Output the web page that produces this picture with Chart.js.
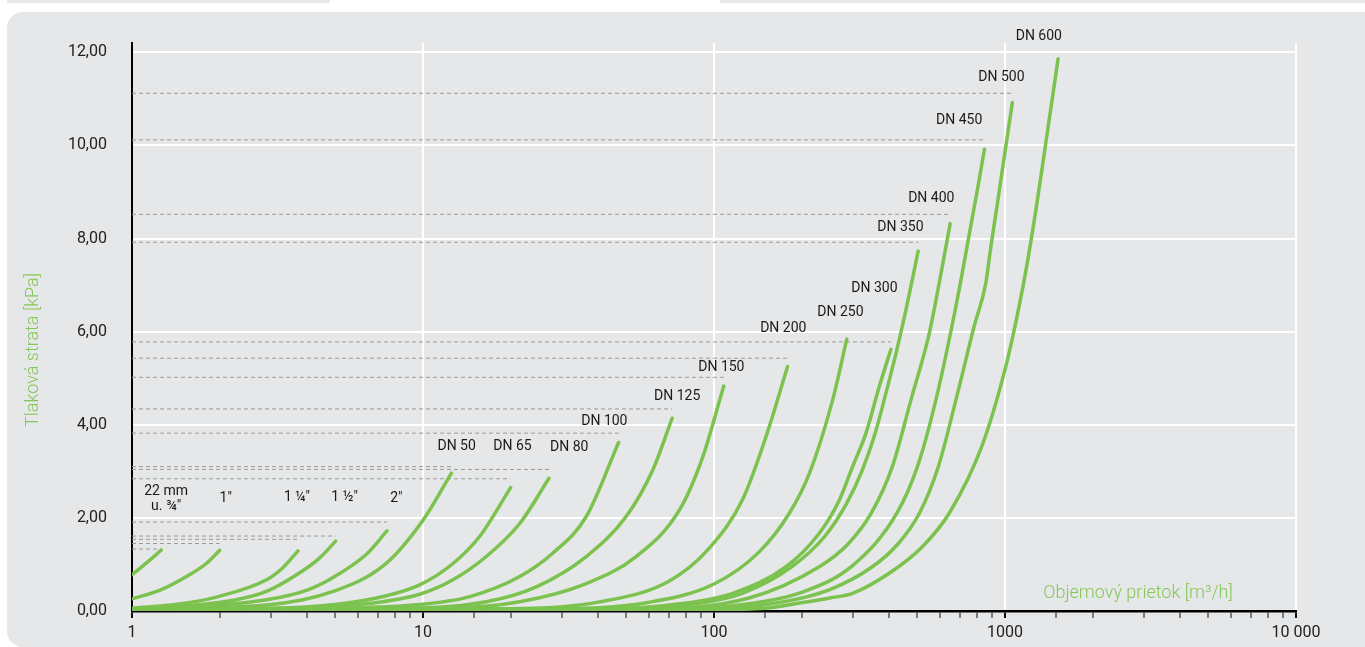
<!DOCTYPE html>
<html lang="sk">
<head>
<meta charset="utf-8">
<title>Tlaková strata</title>
<script src="https://cdn.jsdelivr.net/npm/chart.js@4.4.1/dist/chart.umd.min.js"></script>
<style>
  html, body { margin: 0; padding: 0; background: #fff; overflow: hidden; }
  .pas { position: absolute; top: 0; height: 3px; background: #e6e7e9; }
  #panel { position: absolute; left: 7px; top: 12px; width: 1400px; height: 635px; background: #e6e7e9; border-radius: 16px; }
  #obal { position: absolute; left: 0; top: 0; width: 1365px; height: 647px; }
</style>
</head>
<body>
<div class="pas" style="left:7px;width:323px"></div>
<div class="pas" style="left:720px;width:645px"></div>
<div id="panel"></div>
<div id="obal"><canvas id="graf"></canvas></div>
<script>
// dimenzie potrubia
const pipes = ['22 mm\nu. ¾"', '1"', '1 ¼"', '1 ½"', '2"', 'DN 50', 'DN 65', 'DN 80', 'DN 100', 'DN 125',
  'DN 150', 'DN 200', 'DN 250', 'DN 300', 'DN 350', 'DN 400', 'DN 450', 'DN 500', 'DN 600']

// objemovy prietok [m3/h]
const flow = [
  [1, 1.13, 1.26],
  [1, 1.25, 1.54, 1.8, 2.0],
  [1, 1.45, 1.98, 2.9, 3.3, 3.72],
  [1, 1.6, 2.23, 2.9, 3.77, 4.4, 5.01],
  [1, 2, 2.9, 4, 4.91, 6.39, 7.52],
  [1, 2.9, 4.91, 7.4, 10, 12.52],
  [1, 3, 5, 7.3, 9.74, 12.68, 15.65, 20],
  [1, 4, 6.5, 9.74, 12.68, 16.5, 21.5, 27.1],
  [1, 5, 9.74, 14.5, 21.5, 27.9, 36.4, 47],
  [1, 9, 16.5, 24.5, 36.4, 49.9, 61.6, 71.8],
  [1, 12, 21.5, 36.4, 54, 76.1, 91.5, 108],
  [1, 20, 40, 70, 96.4, 125.5, 151, 179],
  [1, 30, 60, 100, 143, 181.5, 212.6, 255.6, 286],
  [1, 40, 80, 116, 176.8, 230, 269.5, 299.4, 332.8, 369.7, 405.5],
  [1, 45, 90, 125, 185, 240, 285, 322, 358, 395, 425, 456.5, 503],
  [1, 60, 132, 230, 290, 347, 410, 475, 549, 594, 648],
  [1, 80, 130, 200, 300, 425, 500, 578.6, 678, 773, 815, 850],
  [1, 100, 170, 250, 350, 430, 508, 590, 678, 783, 859, 894, 942, 1006, 1060],
  [1, 100, 151, 196.5, 250, 299.4, 400, 520, 643, 836, 1006, 1089, 1179, 1276, 1381, 1522]
]

// tlakova strata [kPa]
const loss = [
  [0.78, 1.05, 1.31],
  [0.26, 0.45, 0.74, 1.02, 1.30],
  [0.06, 0.15, 0.31, 0.67, 0.93, 1.29],
  [0.05, 0.12, 0.23, 0.42, 0.82, 1.13, 1.50],
  [0.05, 0.13, 0.24, 0.45, 0.72, 1.22, 1.72],
  [0.05, 0.13, 0.42, 1.0, 1.95, 2.96],
  [0.04, 0.06, 0.14, 0.31, 0.56, 1.02, 1.6, 2.65],
  [0.04, 0.07, 0.16, 0.36, 0.67, 1.17, 1.88, 2.85],
  [0.03, 0.06, 0.14, 0.31, 0.74, 1.24, 2.03, 3.62],
  [0.03, 0.06, 0.2, 0.52, 1.17, 2.03, 3.03, 4.14],
  [0.03, 0.06, 0.2, 0.59, 1.17, 2.17, 3.31, 4.83],
  [0.03, 0.05, 0.19, 0.64, 1.35, 2.4, 3.75, 5.25],
  [0.03, 0.05, 0.19, 0.58, 1.27, 2.1, 2.95, 4.53, 5.84],
  [0.03, 0.04, 0.17, 0.38, 0.95, 1.67, 2.38, 3.1, 3.82, 4.82, 5.62],
  [0.03, 0.04, 0.17, 0.38, 0.95, 1.6, 2.3, 3.0, 3.82, 4.82, 5.61, 6.46, 7.73],
  [0.03, 0.05, 0.28, 0.95, 1.45, 2.1, 3.1, 4.53, 5.96, 7.04, 8.32],
  [0.03, 0.05, 0.15, 0.4, 0.98, 2.1, 3.1, 4.53, 6.54, 8.47, 9.26, 9.92],
  [0.03, 0.06, 0.19, 0.46, 0.95, 1.45, 2.1, 3.1, 4.53, 6.11, 7.04, 7.82, 8.76, 9.97, 10.92],
  [0.02, 0.03, 0.06, 0.17, 0.28, 0.38, 0.81, 1.38, 2.1, 3.57, 5.25, 6.2, 7.3, 8.6, 10.05, 11.86]
]

// prerusovane ciary od osi (null = bez ciary)
const refLevel = [1.33, 1.45, 1.54, 1.61, 1.91, 3.10, 2.84, 3.04, 3.82, 4.34, 5.02, 5.43, null, 5.78, 7.92, 8.52, 10.12, 11.12, null]

// poloha popisov
const labelFlow = [1.31, 2.10, 3.69, 5.38, 8.1, 13.05, 20.3, 31.8, 42, 74.7, 106, 173, 272, 356, 437, 558, 696, 972, 1307]
const labelLoss = [2.40, 2.42, 2.44, 2.44, 2.42, 3.53, 3.53, 3.52, 4.07, 4.60, 5.23, 6.07, 6.41, 6.93, 8.24, 8.86, 10.53, 11.45, 12.35]

const yTicks = [0, 2, 4, 6, 8, 10, 12]
const xTickValues = [1, 10, 100, 1000, 10000]
const xTickLabels = ['1', '10', '100', '1000', '10 000']

const xTitle = 'Objemový prietok [m³/h]'
const yTitle = 'Tlaková strata [kPa]'

const zelena = '#7cc24e'
const zelenaSvetla = '#86c75a'

function jeDekada(v) {
  const l = Math.log10(v)
  return Math.abs(l - Math.round(l)) < 1e-9
}

const datasets = []

refLevel.forEach((lvl, i) => {
  if (lvl === null) return
  const konec = flow[i][flow[i].length - 1]
  datasets.push({
    data: [{ x: 1, y: lvl }, { x: konec, y: lvl }],
    borderColor: '#9a9a9a',
    borderWidth: 1,
    borderDash: [4, 3],
    pointRadius: 0,
    order: 2
  })
})

pipes.forEach((name, i) => {
  datasets.push({
    label: name,
    data: flow[i].map((q, k) => ({ x: q, y: loss[i][k] })),
    borderColor: zelena,
    borderWidth: 3.5,
    borderCapStyle: 'round',
    borderJoinStyle: 'round',
    cubicInterpolationMode: 'monotone',
    pointRadius: 0,
    order: 1
  })
})

// popisy kriviek a nazvy osi
const popisky = {
  id: 'popisky',
  afterDraw(chart) {
    const { ctx, chartArea, scales: { x, y } } = chart
    ctx.save()
    ctx.font = '14px Roboto'
    ctx.fillStyle = '#1a1a1a'
    ctx.textAlign = 'center'
    ctx.textBaseline = 'middle'
    pipes.forEach((name, i) => {
      const px = x.getPixelForValue(labelFlow[i])
      const py = y.getPixelForValue(labelLoss[i])
      const riadky = name.split('\n')
      riadky.forEach((t, k) => {
        ctx.fillText(t, px, py + (k - (riadky.length - 1) / 2) * 15)
      })
    })

    ctx.fillStyle = zelenaSvetla
    ctx.font = '300 18px Roboto'
    ctx.fillText(xTitle, chartArea.right - 158, chartArea.bottom - 18)

    ctx.translate(33, 350)
    ctx.rotate(-Math.PI / 2)
    ctx.fillText(yTitle, 0, 0)
    ctx.restore()
  }
}

const graf = new Chart(document.getElementById('graf'), {
  type: 'line',
  data: { datasets: datasets },
  options: {
    responsive: true,
    maintainAspectRatio: false,
    animation: false,
    layout: { padding: { top: 43, right: 69, left: 0, bottom: 0 } },
    plugins: { legend: { display: false }, tooltip: { enabled: false } },
    scales: {
      x: {
        type: 'logarithmic',
        min: 1,
        max: 10000,
        afterFit: s => { s.height = 36 },
        border: { color: '#000', width: 2.5 },
        grid: {
          color: c => (c.tick && jeDekada(c.tick.value) && c.tick.value > 1) ? '#fff' : 'rgba(0,0,0,0)',
          lineWidth: 2,
          tickColor: '#111',
          tickLength: 7,
          tickWidth: c => (c.tick && jeDekada(c.tick.value)) ? 2 : 1
        },
        ticks: {
          autoSkip: false,
          maxRotation: 0,
          minRotation: 0,
          padding: 5,
          color: '#222',
          font: { family: 'Roboto', size: 16 },
          callback: v => {
            const i = xTickValues.findIndex(t => Math.abs(t - v) < 1e-6)
            return i >= 0 ? xTickLabels[i] : ''
          }
        }
      },
      y: {
        min: 0,
        max: 12.2,
        afterFit: s => { s.width = 132 },
        afterBuildTicks: s => { s.ticks = yTicks.map(v => ({ value: v })) },
        border: { color: '#000', width: 2 },
        grid: {
          color: c => (c.tick && c.tick.value > 0) ? '#fff' : 'rgba(0,0,0,0)',
          lineWidth: 2,
          drawTicks: false
        },
        ticks: {
          padding: 25,
          color: '#222',
          font: { family: 'Roboto', size: 16 },
          callback: v => Number(v).toFixed(2).replace('.', ',')
        }
      }
    }
  },
  plugins: [popisky]
})
</script>
</body>
</html>
